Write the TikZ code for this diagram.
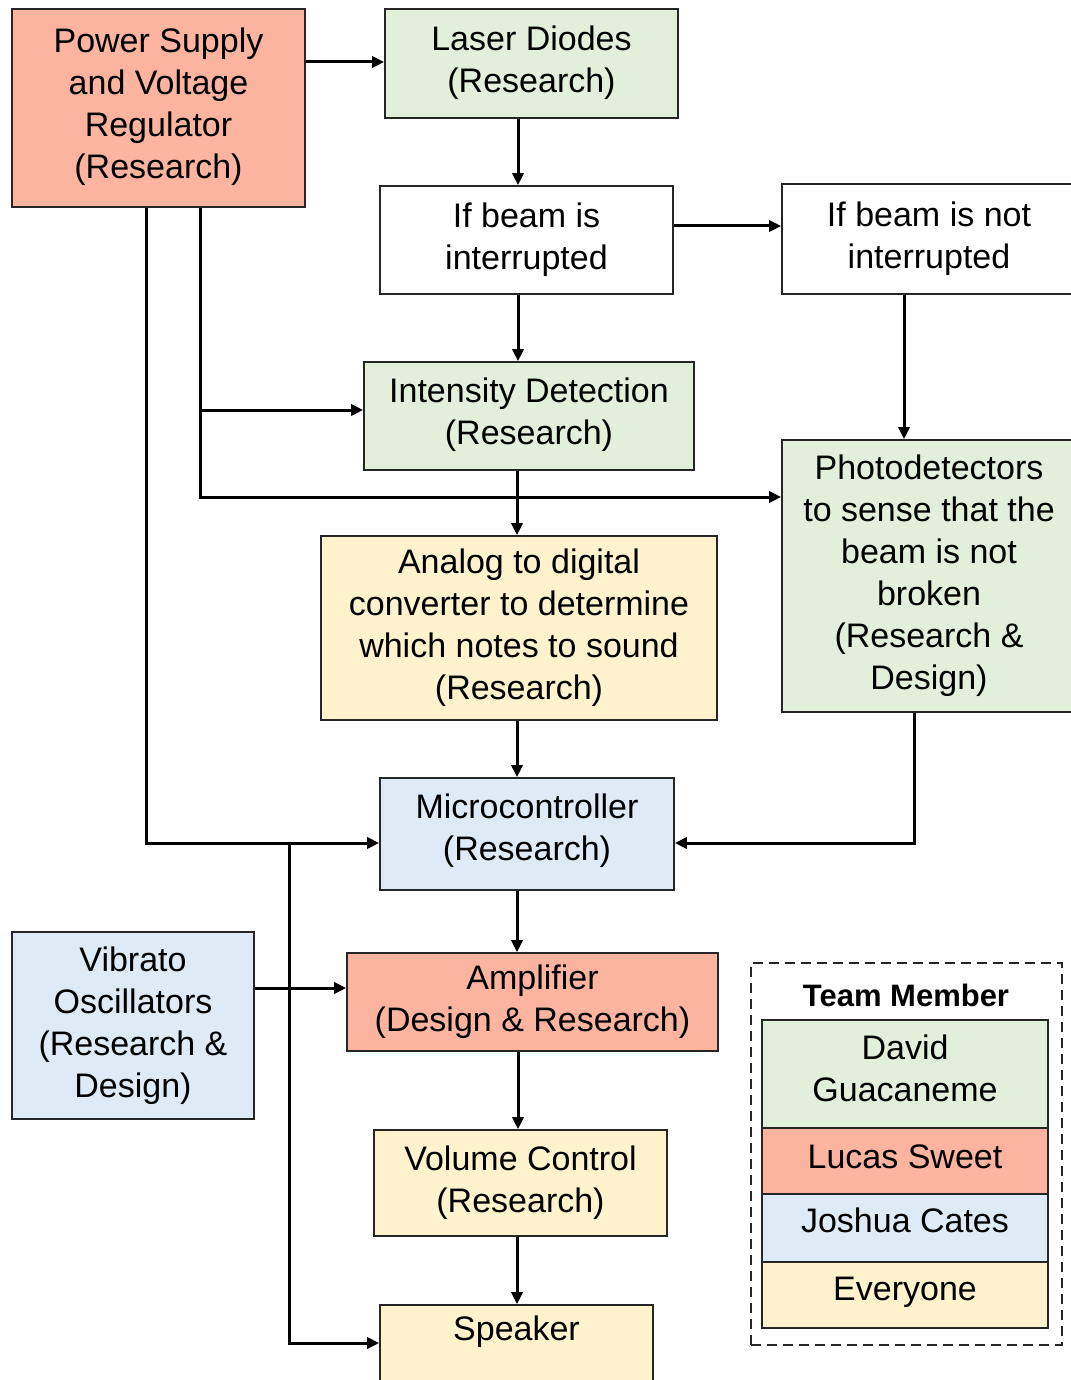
\documentclass[tikz,border=0pt]{standalone}
\usepackage{fontspec}
\setmainfont{Liberation Sans}
\usetikzlibrary{arrows.meta}
\definecolor{cgreen}{HTML}{E2EFDA}
\definecolor{csalmon}{HTML}{FCB4A1}
\definecolor{cblue}{HTML}{DEEBF7}
\definecolor{cyellow}{HTML}{FFF2CC}
\begin{document}
\begin{tikzpicture}[x=0.5pt,y=-0.5pt,
  box/.style={draw=black!85, line width=0.8pt, align=center, inner sep=0pt,
    font=\fontsize{17}{21}\selectfont},
  sz/.style 2 args={minimum width=#1*0.5pt, minimum height=#2*0.5pt},
  arr/.style={line width=1.5pt, line join=miter, -{Triangle[length=6pt,width=5.5pt]}},
  ]
\useasboundingbox (0,0) rectangle (1070,1380);

% boxes
\node[box, fill=csalmon, sz={293}{198}] (pw) at (158.5,108) {Power Supply\\and Voltage\\Regulator\\(Research)\\[-16.5pt]};
\node[box, fill=cgreen, sz={293}{109}] (ld) at (531.5,63.5) {Laser Diodes\\(Research)\\[-17pt]};
\node[box, fill=white, sz={293}{108}] (ib) at (526.5,240) {If beam is\\interrupted\\[-17pt]};
\node[box, fill=white, sz={294}{110}] (inb) at (929,239) {If beam is not\\interrupted\\[-17pt]};
\node[box, fill=cgreen, sz={330}{108}] (idt) at (529,416) {Intensity Detection\\(Research)\\[-16pt]};
\node[box, fill=cgreen, sz={294}{272}] (pd) at (929,576) {Photodetectors\\to sense that the\\beam is not\\broken\\(Research \&\\Design)};
\node[box, fill=cyellow, sz={396}{184}] (adc) at (519,628) {Analog to digital\\converter to determine\\which notes to sound\\(Research)};
\node[box, fill=cblue, sz={294}{112}] (mc) at (527,834) {Microcontroller\\(Research)\\[-14pt]};
\node[box, fill=cblue, sz={242}{187}] (vib) at (133,1025.5) {Vibrato\\Oscillators\\(Research \&\\Design)};
\node[box, fill=csalmon, sz={371}{98}] (amp) at (532.5,1002) {Amplifier\\(Design \& Research)};
\node[box, fill=cyellow, sz={293}{106}] (vol) at (520.5,1183) {Volume Control\\(Research)};
\node[box, fill=cyellow, sz={273}{90}] (spk) at (516.5,1350) {};
\node[font=\fontsize{17}{21}\selectfont, anchor=center] (spkt) at (516.5,1332) {Speaker};

% legend
\node[draw=black!85, dashed, dash pattern=on 5pt off 3pt, line width=0.8pt, sz={311}{382}] (leg) at (906.5,1154) {};
\node[font=\fontsize{15.5}{19}\bfseries] (legt) at (906,995) {Team Member};
\node[box, fill=cgreen, sz={286}{108}] (lg1) at (905,1074) {David\\Guacaneme\\[-15pt]};
\node[box, fill=csalmon, sz={286}{66}, text height=12.5pt, text depth=5pt] (lg2) at (905,1161) {Lucas Sweet};
\node[box, fill=cblue, sz={286}{68}, text height=12.5pt, text depth=8pt] (lg3) at (905,1228) {Joshua Cates};
\node[box, fill=cyellow, sz={286}{66}, text height=12.5pt, text depth=7pt] (lg4) at (905,1295) {Everyone};

% connectors
\coordinate (a1) at (0,62);
\draw[arr] (pw.east |- a1) -- (ld.west |- a1);
\coordinate (x518) at (518,0);
\draw[arr] (ld.south -| x518) -- (ib.north -| x518);
\coordinate (y226) at (0,226);
\draw[arr] (ib.east |- y226) -- (inb.west |- y226);
\draw[arr] (ib.south -| x518) -- (idt.north -| x518);
\coordinate (x904) at (904,0);
\draw[arr] (inb.south -| x904) -- (pd.north -| x904);
\coordinate (x517) at (517,0);
\draw[arr] (idt.south -| x517) -- (adc.north -| x517);
\draw[arr] (adc.south -| x517) -- (mc.north -| x517);
\coordinate (pm) at (914,843);
\draw[arr] (pd.south -| pm) -- (pm) -- (pm -| mc.east);
\draw[arr] (mc.south -| x517) -- (amp.north -| x517);
\draw[arr] (amp.south -| x518) -- (vol.north -| x518);
\draw[arr] (vol.south -| x517) -- (spk.north -| x517);

\coordinate (q) at (146,843);
\draw[arr] (pw.south -| q) -- (q) -- (q -| mc.west);
\coordinate (r) at (289,843);
\coordinate (r2) at (289,1343);
\draw[arr] (r) -- (r2) -- (r2 -| spk.west);
\coordinate (s1) at (200,410);
\coordinate (s2) at (200,497);
\draw[arr] (pw.south -| s2) -- (s2) -- (s2 -| pd.west);
\draw[arr] (s1) -- (s1 -| idt.west);
\coordinate (v) at (0,988);
\draw[arr] (vib.east |- v) -- (amp.west |- v);
\end{tikzpicture}
\end{document}
